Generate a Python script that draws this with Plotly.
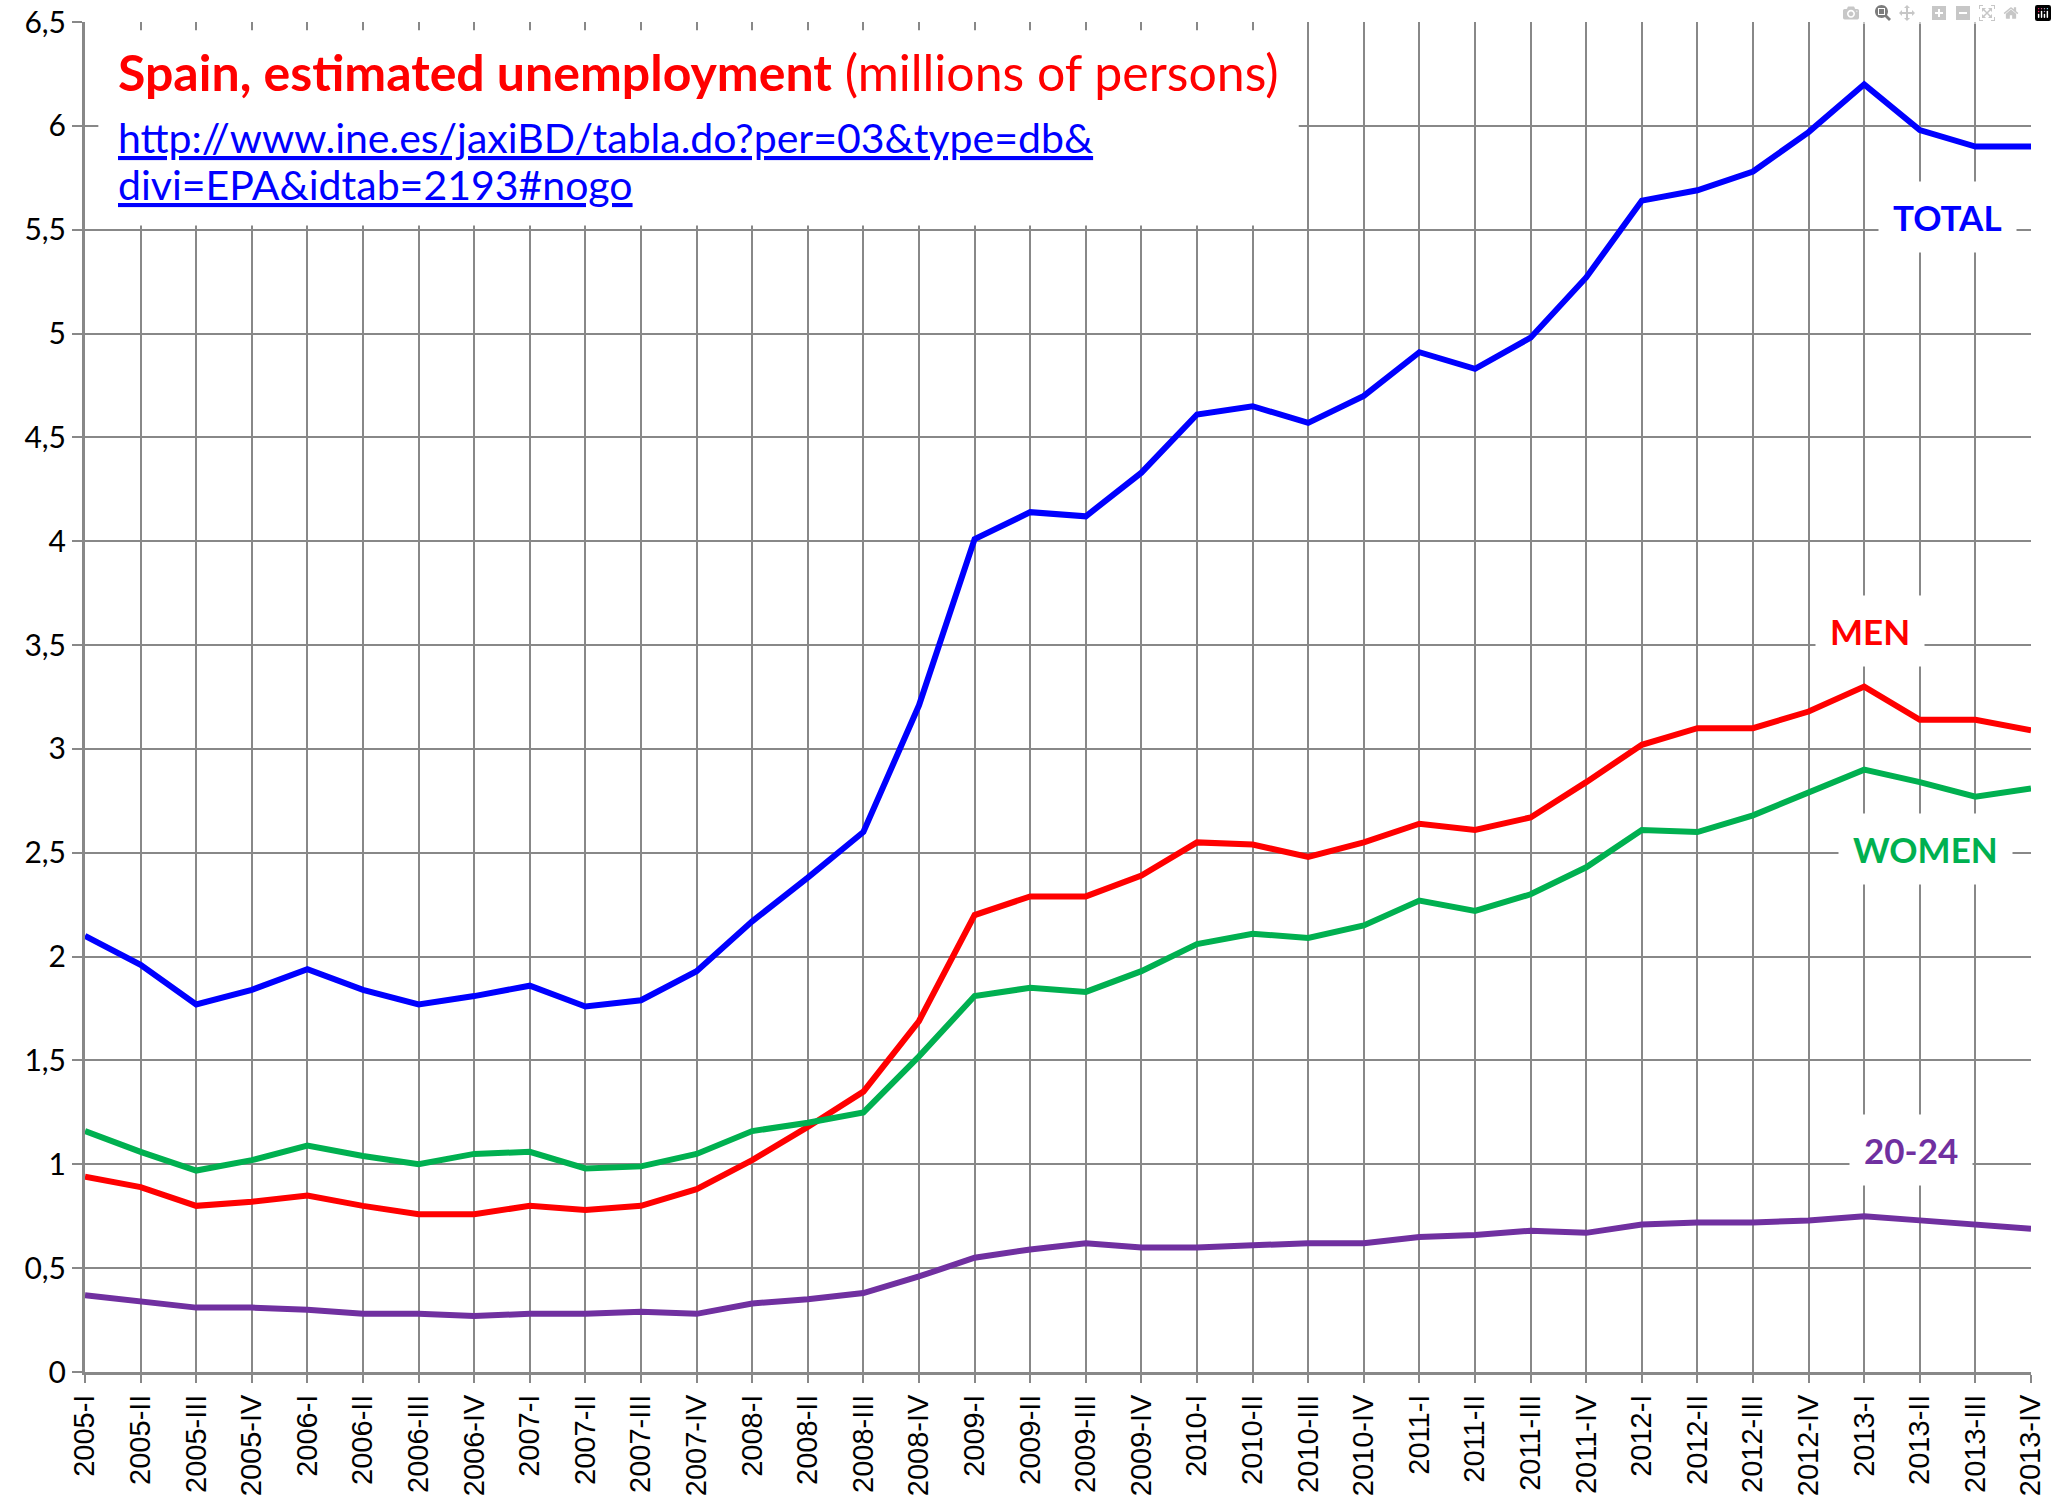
import plotly.graph_objects as go

quarters = [f"{y}-{q}" for y in range(2005, 2014) for q in ["I", "II", "III", "IV"]]

total = [2.10, 1.96, 1.77, 1.84, 1.94, 1.84, 1.77, 1.81, 1.86, 1.76, 1.79, 1.93,
         2.17, 2.38, 2.60, 3.21, 4.01, 4.14, 4.12, 4.33, 4.61, 4.65, 4.57, 4.70,
         4.91, 4.83, 4.98, 5.27, 5.64, 5.69, 5.78, 5.97, 6.20, 5.98, 5.90, 5.90]
men = [0.94, 0.89, 0.80, 0.82, 0.85, 0.80, 0.76, 0.76, 0.80, 0.78, 0.80, 0.88,
       1.02, 1.18, 1.35, 1.69, 2.20, 2.29, 2.29, 2.39, 2.55, 2.54, 2.48, 2.55,
       2.64, 2.61, 2.67, 2.84, 3.02, 3.10, 3.10, 3.18, 3.30, 3.14, 3.14, 3.09]
women = [1.16, 1.06, 0.97, 1.02, 1.09, 1.04, 1.00, 1.05, 1.06, 0.98, 0.99, 1.05,
         1.16, 1.20, 1.25, 1.52, 1.81, 1.85, 1.83, 1.93, 2.06, 2.11, 2.09, 2.15,
         2.27, 2.22, 2.30, 2.43, 2.61, 2.60, 2.68, 2.79, 2.90, 2.84, 2.77, 2.81]
age_20_24 = [0.37, 0.34, 0.31, 0.31, 0.30, 0.28, 0.28, 0.27, 0.28, 0.28, 0.29, 0.28,
             0.33, 0.35, 0.38, 0.46, 0.55, 0.59, 0.62, 0.60, 0.60, 0.61, 0.62, 0.62,
             0.65, 0.66, 0.68, 0.67, 0.71, 0.72, 0.72, 0.73, 0.75, 0.73, 0.71, 0.69]

series = [
    ("TOTAL", total, "#0000FF", 33.5, 5.56),
    ("MEN", men, "#FF0000", 32.1, 3.57),
    ("WOMEN", women, "#00B050", 33.1, 2.52),
    ("20-24", age_20_24, "#7030A0", 32.85, 1.07),
]

fig = go.Figure()
for name, vals, col, lx, ly in series:
    fig.add_trace(go.Scatter(x=quarters, y=vals, mode="lines", name=name,
                             line=dict(color=col, width=6)))
    fig.add_annotation(x=lx, y=ly, text=f"<b>{name}</b>", showarrow=False,
                       font=dict(family="Lato", size=35, color=col),
                       bgcolor="white", borderpad=14, xanchor="center", yanchor="middle")

# white box behind the title, over the grid
fig.add_shape(type="rect", x0=0.24, x1=21.83, y0=5.52, y1=6.46, layer="between",
              fillcolor="white", line=dict(width=0))

fig.add_annotation(x=0.55, y=6.26, xanchor="left", yanchor="middle", showarrow=False,
                   text="<b>Spain, estimated unemployment</b> (millions of persons)",
                   font=dict(family="Lato", size=50, color="#FF0000"))
fig.add_annotation(x=0.55, y=5.945, xanchor="left", yanchor="middle", showarrow=False,
                   text="<u>http://www.ine.es/jaxiBD/tabla.do?per=03&type=db&</u>",
                   font=dict(family="Lato", size=41, color="#0000FF"))
fig.add_annotation(x=0.55, y=5.72, xanchor="left", yanchor="middle", showarrow=False,
                   text="<u>divi=EPA&idtab=2193#nogo</u>",
                   font=dict(family="Lato", size=41, color="#0000FF"))

grid = "#888888"
fig.update_xaxes(type="category", categoryorder="array", categoryarray=quarters,
                 range=[0, 35], tickangle=-90, showgrid=True, gridcolor=grid, gridwidth=2,
                 showline=True, linecolor=grid, linewidth=3, ticks="outside", ticklen=8,
                 tickcolor=grid, tickwidth=2, zeroline=False, automargin=False,
                 tickfont=dict(family="Liberation Sans", size=29, color="black"))
fig.update_yaxes(range=[0, 6.5], dtick=0.5, tick0=0, showgrid=True, gridcolor=grid, gridwidth=2,
                 showline=True, linecolor=grid, linewidth=3, ticks="outside", ticklen=10,
                 tickcolor=grid, tickwidth=2, zeroline=False, automargin=False,
                 tickfont=dict(family="Lato", size=30, color="black"))

fig.update_layout(width=2057, height=1495, showlegend=False, separators=",.",
                  plot_bgcolor="white", paper_bgcolor="white",
                  margin=dict(l=85, r=26, t=22, b=123))

fig.write_html("out.html", post_script="document.body.style.margin='0';")
